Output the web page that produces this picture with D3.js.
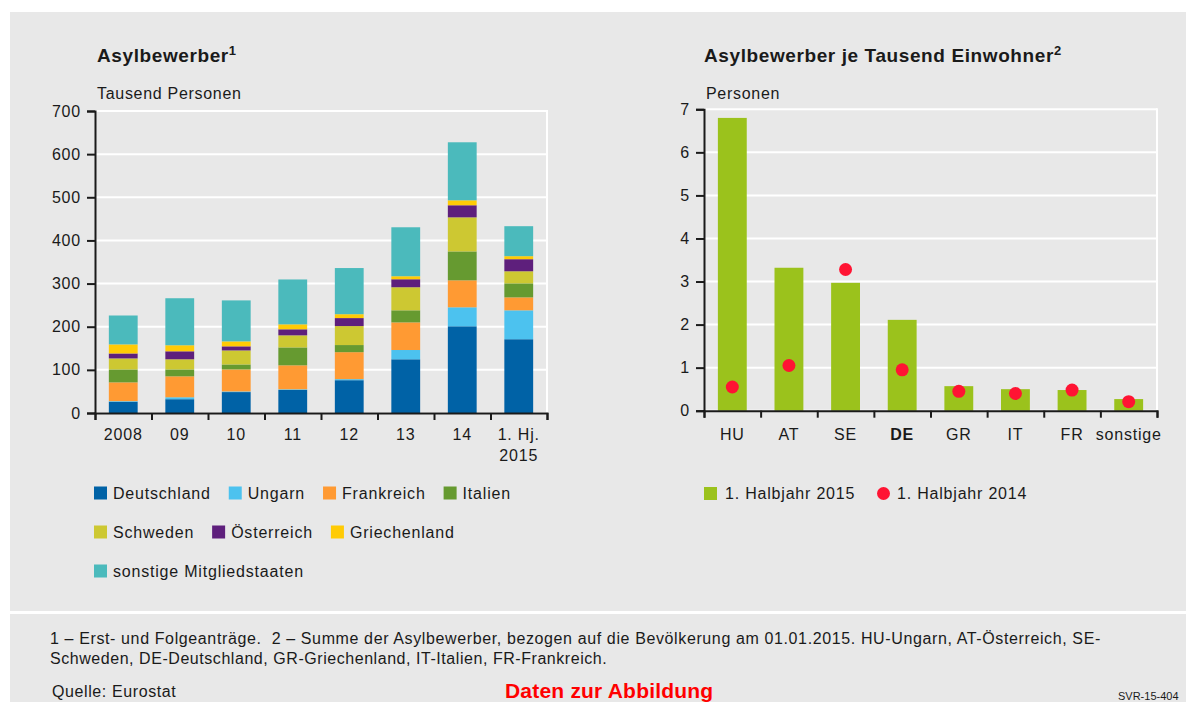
<!DOCTYPE html>
<html>
<head>
<meta charset="utf-8">
<script src="https://cdn.jsdelivr.net/npm/d3@7"></script>
<style>
  body { margin: 0; background: #fff; }
  svg text { font-family: "Liberation Sans", Arial, sans-serif; fill: #1a1a1a; }
</style>
</head>
<body>
<svg id="chart" width="1186" height="702"></svg>
<script>
// left chart: asylum seekers, thousand persons
var years = ["2008", "09", "10", "11", "12", "13", "14", "1. Hj.|2015"];
var countries = ["Deutschland", "Ungarn", "Frankreich", "Italien", "Schweden", "Österreich", "Griechenland", "sonstige Mitgliedstaaten"];
var colors = ["#0062a6", "#4cc2ef", "#ff9a33", "#669a30", "#cdc832", "#5e1f7c", "#ffcb05", "#4bbabc"];
var deutschland = [26, 32, 48.5, 53.5, 76, 124.5, 201, 171];
var ungarn = [1.5, 4.5, 1.5, 1.5, 2.5, 21.5, 44, 67];
var frankreich = [43.5, 48.5, 51, 55.5, 62.5, 64, 62.5, 30];
var italien = [30, 16, 11.5, 41.5, 16.5, 28, 67, 32.5];
var schweden = [25.5, 23.5, 32.5, 28, 44, 53.5, 79, 28];
var oesterreich = [11.5, 18.5, 9.5, 14, 18.5, 18.5, 28, 28];
var griechenland = [21, 14, 11.5, 11.5, 9, 7, 11.5, 7];
var sonstige = [67, 109, 95, 104, 107, 113.5, 134.5, 69.5];
var leftTicks = [0, 100, 200, 300, 400, 500, 600, 700];

// right chart: per thousand inhabitants
var states = ["HU", "AT", "SE", "DE", "GR", "IT", "FR", "sonstige"];
var halbjahr2015 = [6.8, 3.32, 2.97, 2.11, 0.57, 0.5, 0.48, 0.27];
var halbjahr2014 = [0.55, 1.05, 3.28, 0.95, 0.45, 0.4, 0.48, 0.21];
var rightTicks = [0, 1, 2, 3, 4, 5, 6, 7];

var svg = d3.select("#chart");
var bg = "#e8e8e8";
var ls = 0.8; // reference font runs wider than Liberation Sans

svg.append("rect").attr("x", 10).attr("y", 12).attr("width", 1176).attr("height", 599).attr("fill", bg);
svg.append("rect").attr("x", 10).attr("y", 614).attr("width", 1176).attr("height", 88).attr("fill", bg);

function frame(g, y, x0, x1, ticks) {
  // white grid lines
  g.selectAll(".grid").data(ticks).enter().append("line")
    .attr("x1", x0).attr("x2", x1)
    .attr("y1", d => y(d)).attr("y2", d => y(d))
    .attr("stroke", "#fff").attr("stroke-width", 2);
  g.append("line")
    .attr("x1", x1).attr("x2", x1)
    .attr("y1", y(ticks[ticks.length - 1]) - 1).attr("y2", y(0))
    .attr("stroke", "#fff").attr("stroke-width", 2);

  var leftAxis = d3.axisLeft(y).tickValues(ticks).tickSize(8).tickPadding(6).tickFormat(d3.format("d"));
  var ax = g.append("g").attr("transform", `translate(${x0},0)`).call(leftAxis);
  ax.select(".domain").attr("stroke", "#1a1a1a").attr("stroke-width", 2);
  ax.selectAll(".tick line").attr("stroke", "#1a1a1a").attr("stroke-width", 2);
  ax.selectAll("text").attr("font-size", 16).attr("fill", "#1a1a1a").attr("letter-spacing", ls)
    .style("font-family", "'Liberation Sans', Arial, sans-serif");
}

function bottomTicks(g, n, x0, x1, y0) {
  var tickScale = d3.scaleLinear().domain([0, n]).range([x0, x1]);
  var bottomAxis = d3.axisBottom(tickScale).ticks(n).tickSize(7).tickFormat("");
  var ax = g.append("g").attr("transform", `translate(0,${y0})`).call(bottomAxis);
  ax.select(".domain").attr("stroke", "#1a1a1a").attr("stroke-width", 2);
  ax.selectAll(".tick line").attr("stroke", "#1a1a1a").attr("stroke-width", 2);
}

// ---------- left chart ----------
var L = { x0: 95, x1: 547, top: 111, bottom: 413 };
var xL = d3.scaleBand().domain(years).range([L.x0, L.x1]).paddingInner(0.49).paddingOuter(0.245);
var yL = d3.scaleLinear().domain([0, 700]).range([L.bottom, L.top]);
var gL = svg.append("g");
frame(gL, yL, L.x0, L.x1, leftTicks);

var seriesArrays = [deutschland, ungarn, frankreich, italien, schweden, oesterreich, griechenland, sonstige];
var rows = years.map(function(yr, i) {
  var r = { year: yr };
  countries.forEach(function(c, k) { r[c] = seriesArrays[k][i]; });
  return r;
});
var stacked = d3.stack().keys(countries)(rows);

gL.selectAll(".layer").data(stacked).enter().append("g")
  .attr("fill", (d, i) => colors[i])
  .selectAll("rect").data(d => d).enter().append("rect")
  .attr("x", d => xL(d.data.year))
  .attr("width", xL.bandwidth())
  .attr("y", d => yL(d[1]))
  .attr("height", d => yL(d[0]) - yL(d[1]));

bottomTicks(gL, years.length, L.x0, L.x1, L.bottom);

years.forEach(function(yr) {
  var lines = yr.split("|");
  var t = gL.append("text").attr("text-anchor", "middle").attr("font-size", 16).attr("letter-spacing", ls)
    .attr("x", xL(yr) + xL.bandwidth() / 2).attr("y", 440);
  lines.forEach(function(l, i) {
    t.append("tspan").attr("x", xL(yr) + xL.bandwidth() / 2).attr("dy", i ? 21 : 0).text(l);
  });
});

var tL = svg.append("text").attr("x", 97).attr("y", 62).attr("font-size", 19).attr("font-weight", "bold").attr("letter-spacing", 0.6);
tL.append("tspan").text("Asylbewerber");
tL.append("tspan").attr("font-size", 13).attr("dy", -7).text("1");
svg.append("text").attr("x", 97).attr("y", 99).attr("font-size", 16).attr("letter-spacing", 0.7).text("Tausend Personen");

// left legend, flowing rows
var legendRows = [[0, 1, 2, 3], [4, 5, 6], [7]];
legendRows.forEach(function(row, ri) {
  var x = 94, y = 493 + ri * 39;
  row.forEach(function(k) {
    svg.append("rect").attr("x", x).attr("y", y - 6.5).attr("width", 13).attr("height", 13).attr("fill", colors[k]);
    var t = svg.append("text").attr("x", x + 19).attr("y", y + 6).attr("font-size", 16).attr("letter-spacing", ls).text(countries[k]);
    x += 19 + t.node().getComputedTextLength() + 18;
  });
});

// ---------- right chart ----------
var R = { x0: 704, x1: 1157, top: 109.3, bottom: 410.7 };
var xR = d3.scaleBand().domain(states).range([R.x0, R.x1]).paddingInner(0.49).paddingOuter(0.245);
var yR = d3.scaleLinear().domain([0, 7]).range([R.bottom, R.top]);
var gR = svg.append("g");
frame(gR, yR, R.x0, R.x1, rightTicks);

gR.selectAll(".bar").data(states).enter().append("rect")
  .attr("x", d => xR(d))
  .attr("width", xR.bandwidth())
  .attr("y", (d, i) => yR(halbjahr2015[i]))
  .attr("height", (d, i) => yR(0) - yR(halbjahr2015[i]))
  .attr("fill", "#9bc21c");

bottomTicks(gR, states.length, R.x0, R.x1, R.bottom);

gR.selectAll(".dot").data(states).enter().append("circle")
  .attr("cx", d => xR(d) + xR.bandwidth() / 2)
  .attr("cy", (d, i) => yR(halbjahr2014[i]))
  .attr("r", 6.5)
  .attr("fill", "#ff1433");

gR.selectAll(".xl").data(states).enter().append("text")
  .attr("text-anchor", "middle").attr("font-size", 16).attr("letter-spacing", ls)
  .attr("font-weight", d => d === "DE" ? "bold" : "normal")
  .attr("x", d => xR(d) + xR.bandwidth() / 2).attr("y", 440)
  .text(d => d);

var tR = svg.append("text").attr("x", 704).attr("y", 62).attr("font-size", 19).attr("font-weight", "bold").attr("letter-spacing", 0.6);
tR.append("tspan").text("Asylbewerber je Tausend Einwohner");
tR.append("tspan").attr("font-size", 13).attr("dy", -7).text("2");
svg.append("text").attr("x", 706).attr("y", 99).attr("font-size", 16).attr("letter-spacing", 0.7).text("Personen");

svg.append("rect").attr("x", 704).attr("y", 487).attr("width", 13).attr("height", 13).attr("fill", "#9bc21c");
svg.append("text").attr("x", 725).attr("y", 499).attr("font-size", 16).attr("letter-spacing", ls).text("1. Halbjahr 2015");
svg.append("circle").attr("cx", 883.5).attr("cy", 493.5).attr("r", 6.5).attr("fill", "#ff1433");
svg.append("text").attr("x", 897).attr("y", 499).attr("font-size", 16).attr("letter-spacing", ls).text("1. Halbjahr 2014");

// ---------- footer ----------
svg.append("text").attr("x", 50).attr("y", 644).attr("font-size", 16).attr("letter-spacing", 0.62)
  .attr("xml:space", "preserve")
  .text("1 – Erst- und Folgeanträge.  2 – Summe der Asylbewerber, bezogen auf die Bevölkerung am 01.01.2015. HU-Ungarn, AT-Österreich, SE-");
svg.append("text").attr("x", 50).attr("y", 664).attr("font-size", 16).attr("letter-spacing", 0.55)
  .text("Schweden, DE-Deutschland, GR-Griechenland, IT-Italien, FR-Frankreich.");
svg.append("text").attr("x", 52).attr("y", 697).attr("font-size", 16).attr("letter-spacing", 0.6).text("Quelle: Eurostat");
svg.append("text").attr("x", 505).attr("y", 698).attr("font-size", 21).attr("font-weight", "bold").attr("letter-spacing", 0.2)
  .style("fill", "#ff0000").text("Daten zur Abbildung");
svg.append("text").attr("x", 1118).attr("y", 700).attr("font-size", 11).text("SVR-15-404");
</script>
</body>
</html>
